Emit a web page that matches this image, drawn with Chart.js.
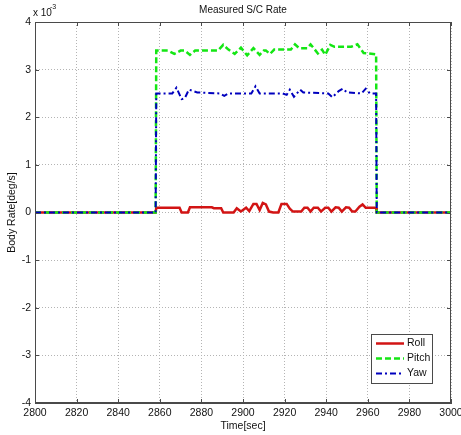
<!DOCTYPE html>
<html>
<head>
<meta charset="utf-8">
<script src="https://cdn.jsdelivr.net/npm/chart.js@4/dist/chart.umd.min.js"></script>
<style>
  html, body { margin: 0; padding: 0; background: #fff; }
  canvas { display: block; }
</style>
</head>
<body>
<canvas id="grafico" width="461" height="435"></canvas>
<script>
// dados (valores em unidades de 1e-3 deg/s)
const xTicks = [2800, 2820, 2840, 2860, 2880, 2900, 2920, 2940, 2960, 2980, 3000];
const yTicks = [-4, -3, -2, -1, 0, 1, 2, 3, 4];
const seriesNames = ['Roll', 'Pitch', 'Yaw'];

const rollT = [2800, 2858, 2858.3, 2869.5, 2870.5, 2873.5, 2874.5, 2885, 2886, 2889.5, 2890.5, 2895.5, 2897, 2899, 2901.5, 2903, 2905, 2906.5, 2908, 2909.5, 2911, 2912.5, 2914.5, 2917, 2918.5, 2921, 2922.5, 2924, 2928, 2929.5, 2931, 2932.5, 2934, 2936, 2937.5, 2939.5, 2941, 2942.5, 2944.5, 2946, 2947.5, 2949.5, 2951, 2952.5, 2954, 2956, 2957.5, 2959, 2964, 2964.3, 3000];
const rollV = [0, 0, 0.10, 0.10, 0.00, 0.00, 0.11, 0.11, 0.09, 0.09, 0.00, 0.00, 0.09, 0.02, 0.10, 0.03, 0.18, 0.18, 0.05, 0.20, 0.17, 0.02, 0.00, 0.00, 0.18, 0.18, 0.08, 0.02, 0.02, 0.10, 0.10, 0.02, 0.10, 0.10, 0.02, 0.10, 0.10, 0.02, 0.11, 0.10, 0.02, 0.11, 0.10, 0.02, 0.02, 0.12, 0.17, 0.10, 0.10, 0, 0];

const pitchT = [2800, 2858, 2858.3, 2864, 2867, 2870, 2872, 2874.5, 2877, 2888, 2890.5, 2893, 2896, 2899, 2902, 2905, 2908, 2910, 2911, 2913, 2915, 2923, 2925, 2927, 2931, 2932.5, 2934, 2936, 2938, 2939.5, 2942, 2944, 2952, 2955, 2958, 2964, 2964.3, 3000];
const pitchV = [0, 0, 3.40, 3.40, 3.33, 3.40, 3.40, 3.31, 3.40, 3.40, 3.52, 3.42, 3.33, 3.46, 3.30, 3.45, 3.31, 3.40, 3.40, 3.33, 3.42, 3.42, 3.53, 3.45, 3.45, 3.53, 3.45, 3.34, 3.42, 3.31, 3.52, 3.48, 3.48, 3.53, 3.35, 3.32, 0, 0];

const yawT = [2800, 2858, 2858.3, 2866, 2868, 2870.5, 2872, 2874, 2876, 2878, 2889, 2891, 2893, 2904, 2906, 2908, 2919, 2921, 2922.5, 2924.5, 2927.5, 2929, 2941, 2943, 2946, 2948, 2950, 2957, 2959, 2961, 2964, 2964.3, 3000];
const yawV = [0, 0, 2.50, 2.50, 2.62, 2.38, 2.40, 2.58, 2.55, 2.52, 2.50, 2.45, 2.50, 2.50, 2.65, 2.50, 2.50, 2.47, 2.58, 2.43, 2.58, 2.52, 2.50, 2.42, 2.55, 2.60, 2.52, 2.50, 2.60, 2.50, 2.50, 0, 0];

const pontos = (t, v) => t.map((x, i) => ({ x: x, y: v[i] }));

const FONTE = 'Liberation Sans, Arial, sans-serif';
const EIXO = '#4a4a4a';
const GRADE = '#b4b4b4';

// moldura, marcas, legenda e textos estilo MATLAB
const matlabPlugin = {
    id: 'matlab',
    afterDatasetsDraw(chart) {
        const ctx = chart.ctx;
        const a = chart.chartArea;
        const sx = chart.scales.x, sy = chart.scales.y;
        ctx.save();
        ctx.strokeStyle = EIXO;
        ctx.lineWidth = 1;
        ctx.strokeRect(a.left + 0.5, a.top + 0.5, a.right - a.left - 1, a.bottom - a.top - 1);

        // marcas para dentro
        ctx.beginPath();
        xTicks.forEach(v => {
            const px = Math.round(sx.getPixelForValue(v)) + 0.5;
            ctx.moveTo(px, a.bottom); ctx.lineTo(px, a.bottom - 4);
            ctx.moveTo(px, a.top); ctx.lineTo(px, a.top + 4);
        });
        yTicks.forEach(v => {
            const py = Math.round(sy.getPixelForValue(v)) + 0.5;
            ctx.moveTo(a.left, py); ctx.lineTo(a.left + 4, py);
            ctx.moveTo(a.right, py); ctx.lineTo(a.right - 4, py);
        });
        ctx.stroke();

        // legenda
        const bx = 371, by = 334, bw = 61, bh = 49;
        ctx.fillStyle = '#fff';
        ctx.fillRect(bx, by, bw, bh);
        ctx.strokeRect(bx + 0.5, by + 0.5, bw, bh);
        ctx.font = '10.5px ' + FONTE;
        ctx.textBaseline = 'middle';
        chart.data.datasets.forEach((ds, i) => {
            const y = by + 9.5 + i * 15;
            ctx.strokeStyle = ds.borderColor;
            ctx.lineWidth = ds.borderWidth;
            ctx.setLineDash(ds.borderDash || []);
            ctx.beginPath();
            ctx.moveTo(bx + 5, y);
            ctx.lineTo(bx + 33, y);
            ctx.stroke();
            ctx.setLineDash([]);
            ctx.fillStyle = '#111';
            ctx.fillText(ds.label, bx + 36, y);
        });

        // titulo e multiplicador
        ctx.fillStyle = '#111';
        ctx.textAlign = 'center';
        ctx.font = '10px ' + FONTE;
        ctx.fillText('Measured S/C Rate', (a.left + a.right) / 2, 10);
        ctx.textAlign = 'left';
        ctx.fillText('x 10', 33, 13);
        ctx.font = '7px ' + FONTE;
        ctx.fillText('-3', 50, 7);
        ctx.restore();
    }
};

const ctx = document.getElementById('grafico').getContext('2d');
new Chart(ctx, {
    type: 'line',
    data: {
        datasets: [
            { label: seriesNames[0], data: pontos(rollT, rollV), borderColor: 'rgb(210,20,20)', borderWidth: 2.5, order: 3 },
            { label: seriesNames[1], data: pontos(pitchT, pitchV), borderColor: 'rgb(20,230,20)', borderWidth: 2.5, borderDash: [6, 3], order: 2 },
            { label: seriesNames[2], data: pontos(yawT, yawV), borderColor: 'rgb(0,0,190)', borderWidth: 2, borderDash: [6, 3, 2, 3], order: 1 }
        ]
    },
    options: {
        responsive: false,
        animation: false,
        events: [],
        elements: { point: { radius: 0 }, line: { tension: 0, fill: false } },
        layout: { padding: { top: 22, right: 10, left: 0, bottom: 0 } },
        plugins: { legend: { display: false }, title: { display: false }, tooltip: { enabled: false } },
        scales: {
            x: {
                type: 'linear', min: 2800, max: 3000,
                afterBuildTicks: s => { s.ticks = xTicks.map(v => ({ value: v })); },
                afterFit: s => { s.height = 32; s.paddingLeft = 0; s.paddingRight = 0; },
                ticks: { font: { size: 10.5, family: FONTE }, color: '#111', padding: 4, maxRotation: 0, autoSkip: false, callback: v => String(v) },
                grid: { color: GRADE, lineWidth: 1, drawTicks: false },
                border: { color: EIXO, dash: [1, 2] },
                title: { display: true, text: 'Time[sec]', font: { size: 10.5, family: FONTE }, color: '#111', padding: { top: 0, bottom: 3 } }
            },
            y: {
                min: -4, max: 4,
                afterBuildTicks: s => { s.ticks = yTicks.map(v => ({ value: v })); },
                afterFit: s => { s.width = 35; s.paddingTop = 0; s.paddingBottom = 0; },
                ticks: { font: { size: 10.5, family: FONTE }, color: '#111', padding: 4, autoSkip: false, callback: v => String(v) },
                grid: { color: GRADE, lineWidth: 1, drawTicks: false },
                border: { color: EIXO, dash: [1, 2] },
                title: { display: true, text: 'Body Rate[deg/s]', font: { size: 10.5, family: FONTE }, color: '#111', padding: { top: 6, bottom: 0 } }
            }
        }
    },
    plugins: [matlabPlugin]
});
</script>
</body>
</html>
